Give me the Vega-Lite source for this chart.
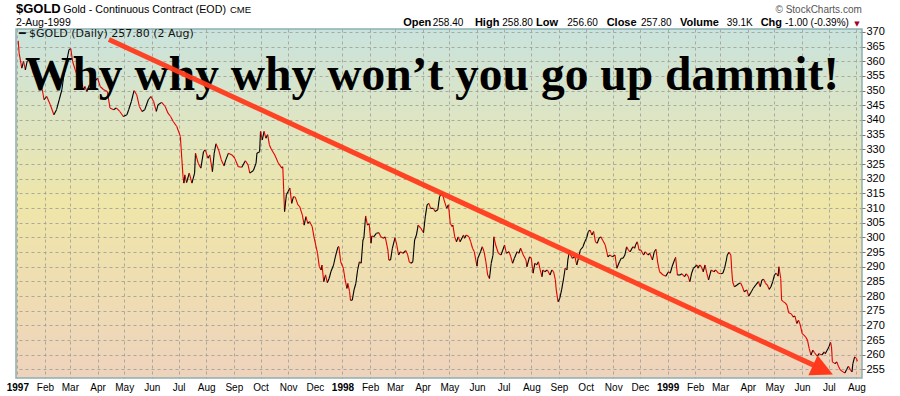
{
  "$schema": "https://vega.github.io/schema/vega-lite/v6.json",
  "width": 846,
  "height": 349,
  "autosize": {"type": "none"},
  "padding": {"left": 16, "top": 29, "right": 38, "bottom": 18},
  "background": "white",
  "config": {
    "view": {"fill": {"gradient": "linear", "x1": 0, "y1": 0, "x2": 0, "y2": 1, "stops": [{"offset": 0, "color": "#c9e3dd"}, {"offset": 0.25, "color": "#dde5c4"}, {"offset": 0.5, "color": "#efe6a9"}, {"offset": 0.75, "color": "#efddb2"}, {"offset": 1, "color": "#eed3bd"}]}, "stroke": "#8cb0b3", "strokeWidth": 1.5},
    "font": "Liberation Sans"
  },
  "layer": [
    {
      "data": {"format": {"parse": {"date": "date"}}, "values": [
        {"date":"1997-01-02","price":367},{"date":"1997-01-03","price":362.8},{"date":"1997-01-05","price":359.4},{"date":"1997-01-06","price":357.7},{"date":"1997-01-08","price":360},{"date":"1997-01-10","price":357.1},{"date":"1997-01-12","price":360},{"date":"1997-01-15","price":360.5},{"date":"1997-01-19","price":356},{"date":"1997-01-23","price":353.7},{"date":"1997-01-26","price":356},{"date":"1997-01-29","price":350.3},{"date":"1997-01-31","price":346.9},
        {"date":"1997-02-03","price":348},{"date":"1997-02-07","price":345.2},{"date":"1997-02-11","price":341.8},{"date":"1997-02-14","price":343.5},{"date":"1997-02-17","price":346.9},{"date":"1997-02-20","price":350.3},{"date":"1997-02-22","price":354.8},{"date":"1997-02-25","price":359.4},{"date":"1997-02-28","price":364},
        {"date":"1997-03-02","price":364.3},{"date":"1997-03-04","price":360},{"date":"1997-03-07","price":357.1},{"date":"1997-03-10","price":354.3},{"date":"1997-03-12","price":352.6},{"date":"1997-03-14","price":353.7},{"date":"1997-03-16","price":350.3},{"date":"1997-03-18","price":351.4},{"date":"1997-03-20","price":349.7},{"date":"1997-03-23","price":352},{"date":"1997-03-26","price":351.4},{"date":"1997-03-29","price":353.1},
        {"date":"1997-04-01","price":354.3},{"date":"1997-04-04","price":351.4},{"date":"1997-04-08","price":350.3},{"date":"1997-04-12","price":349.7},{"date":"1997-04-15","price":344.1},{"date":"1997-04-19","price":343.5},{"date":"1997-04-22","price":344.1},{"date":"1997-04-26","price":342.9},{"date":"1997-04-30","price":341.2},
        {"date":"1997-05-04","price":341.8},{"date":"1997-05-06","price":343.5},{"date":"1997-05-09","price":346.3},{"date":"1997-05-12","price":350},{"date":"1997-05-15","price":348.6},{"date":"1997-05-18","price":344.6},{"date":"1997-05-21","price":342.9},{"date":"1997-05-24","price":343.5},{"date":"1997-05-28","price":346.9},{"date":"1997-05-31","price":348},
        {"date":"1997-06-03","price":346.3},{"date":"1997-06-06","price":342.9},{"date":"1997-06-08","price":345.2},{"date":"1997-06-12","price":346},{"date":"1997-06-16","price":344.6},{"date":"1997-06-19","price":342.4},{"date":"1997-06-22","price":341.2},{"date":"1997-06-25","price":339.5},{"date":"1997-06-29","price":337.8},
        {"date":"1997-07-03","price":334.4},{"date":"1997-07-04","price":329.8},{"date":"1997-07-05","price":325.3},{"date":"1997-07-06","price":320.7},{"date":"1997-07-07","price":318.5},{"date":"1997-07-08","price":321.3},{"date":"1997-07-10","price":318.7},{"date":"1997-07-13","price":321.9},{"date":"1997-07-16","price":318.5},{"date":"1997-07-19","price":321.9},{"date":"1997-07-20","price":328.7},{"date":"1997-07-23","price":325.3},{"date":"1997-07-26","price":323.6},{"date":"1997-07-29","price":329.2},{"date":"1997-07-31","price":329.8},
        {"date":"1997-08-03","price":327},{"date":"1997-08-05","price":328.1},{"date":"1997-08-08","price":322.4},{"date":"1997-08-10","price":328.7},{"date":"1997-08-12","price":331.9},{"date":"1997-08-15","price":329.8},{"date":"1997-08-18","price":326.4},{"date":"1997-08-21","price":324.4},{"date":"1997-08-23","price":326.4},{"date":"1997-08-26","price":328.7},{"date":"1997-08-30","price":328.1},
        {"date":"1997-09-02","price":327},{"date":"1997-09-06","price":324.1},{"date":"1997-09-10","price":323.9},{"date":"1997-09-14","price":326.1},{"date":"1997-09-17","price":324.7},{"date":"1997-09-19","price":321.9},{"date":"1997-09-23","price":322.8},{"date":"1997-09-26","price":325.3},{"date":"1997-09-27","price":328.7},{"date":"1997-09-30","price":329.2},
        {"date":"1997-10-01","price":336.1},{"date":"1997-10-03","price":333.2},{"date":"1997-10-05","price":336.1},{"date":"1997-10-07","price":333.8},{"date":"1997-10-09","price":335},{"date":"1997-10-11","price":331.5},{"date":"1997-10-13","price":330.1},{"date":"1997-10-17","price":328.1},{"date":"1997-10-21","price":325.3},{"date":"1997-10-25","price":323.6},{"date":"1997-10-26","price":324.1},{"date":"1997-10-27","price":316.2},{"date":"1997-10-28","price":308.8},{"date":"1997-10-30","price":314.5},
        {"date":"1997-11-01","price":315.6},{"date":"1997-11-03","price":316.8},{"date":"1997-11-05","price":311.6},{"date":"1997-11-07","price":313.9},{"date":"1997-11-09","price":313.7},{"date":"1997-11-12","price":311.1},{"date":"1997-11-14","price":310.5},{"date":"1997-11-17","price":307.6},{"date":"1997-11-19","price":304.2},{"date":"1997-11-21","price":307.1},{"date":"1997-11-23","price":304.8},{"date":"1997-11-25","price":305.4},{"date":"1997-11-28","price":303.7},{"date":"1997-11-30","price":300.2},
        {"date":"1997-12-02","price":297.4},{"date":"1997-12-04","price":294.6},{"date":"1997-12-06","price":290},{"date":"1997-12-08","price":288.9},{"date":"1997-12-09","price":290.6},{"date":"1997-12-11","price":284.9},{"date":"1997-12-13","price":287.2},{"date":"1997-12-15","price":284.6},{"date":"1997-12-17","price":286},{"date":"1997-12-19","price":288.3},{"date":"1997-12-22","price":290.6},{"date":"1997-12-24","price":293.4},{"date":"1997-12-27","price":296.8},{"date":"1997-12-28","price":296.8},{"date":"1997-12-30","price":291.7},
        {"date":"1998-01-02","price":289.5},{"date":"1998-01-04","price":285.5},{"date":"1998-01-06","price":282.6},{"date":"1998-01-07","price":284.3},{"date":"1998-01-09","price":281.5},{"date":"1998-01-10","price":278.6},{"date":"1998-01-12","price":278.6},{"date":"1998-01-14","price":282.1},{"date":"1998-01-16","price":284.3},{"date":"1998-01-18","price":288.9},{"date":"1998-01-20","price":291.7},{"date":"1998-01-22","price":291.2},{"date":"1998-01-24","price":299.1},{"date":"1998-01-25","price":299.7},{"date":"1998-01-27","price":307.3},{"date":"1998-01-29","price":304.2},{"date":"1998-01-31","price":304.6},
        {"date":"1998-02-02","price":298},{"date":"1998-02-03","price":300.5},{"date":"1998-02-05","price":300.2},{"date":"1998-02-08","price":301.4},{"date":"1998-02-11","price":301.6},{"date":"1998-02-13","price":300.2},{"date":"1998-02-16","price":299.7},{"date":"1998-02-18","price":300.2},{"date":"1998-02-21","price":295.7},{"date":"1998-02-22","price":292.3},{"date":"1998-02-24","price":292.3},{"date":"1998-02-26","price":296.3},
        {"date":"1998-03-01","price":299.9},{"date":"1998-03-03","price":297.4},{"date":"1998-03-05","price":294},{"date":"1998-03-07","price":295.1},{"date":"1998-03-10","price":294.6},{"date":"1998-03-13","price":295.5},{"date":"1998-03-15","price":294.3},{"date":"1998-03-17","price":291.7},{"date":"1998-03-19","price":291.2},{"date":"1998-03-21","price":291.7},{"date":"1998-03-23","price":299.1},{"date":"1998-03-25","price":300.8},{"date":"1998-03-27","price":304.2},{"date":"1998-03-30","price":303.1},
        {"date":"1998-04-02","price":301.6},{"date":"1998-04-04","price":307.1},{"date":"1998-04-06","price":311.1},{"date":"1998-04-08","price":311.6},{"date":"1998-04-10","price":309.9},{"date":"1998-04-13","price":309.9},{"date":"1998-04-15","price":308.8},{"date":"1998-04-18","price":309.4},{"date":"1998-04-20","price":313.9},{"date":"1998-04-23","price":315.3},{"date":"1998-04-25","price":312.8},{"date":"1998-04-28","price":309.9},{"date":"1998-04-30","price":311.1},
        {"date":"1998-05-02","price":304.8},{"date":"1998-05-04","price":303.7},{"date":"1998-05-05","price":304.2},{"date":"1998-05-07","price":300.2},{"date":"1998-05-09","price":298.5},{"date":"1998-05-11","price":300.2},{"date":"1998-05-13","price":298.5},{"date":"1998-05-17","price":300.8},{"date":"1998-05-18","price":299.7},{"date":"1998-05-20","price":300.8},{"date":"1998-05-23","price":300.2},{"date":"1998-05-25","price":298.5},{"date":"1998-05-27","price":296.3},{"date":"1998-05-29","price":295.1},
        {"date":"1998-06-01","price":290.2},{"date":"1998-06-02","price":292.9},{"date":"1998-06-05","price":295.1},{"date":"1998-06-07","price":296.8},{"date":"1998-06-09","price":295.1},{"date":"1998-06-11","price":291.7},{"date":"1998-06-13","price":287.2},{"date":"1998-06-15","price":286},{"date":"1998-06-17","price":291.2},{"date":"1998-06-19","price":294},{"date":"1998-06-20","price":300.2},{"date":"1998-06-22","price":297.4},{"date":"1998-06-25","price":294.6},{"date":"1998-06-28","price":294},{"date":"1998-06-30","price":295.7},
        {"date":"1998-07-02","price":297.4},{"date":"1998-07-04","price":294.6},{"date":"1998-07-07","price":295.1},{"date":"1998-07-09","price":293.4},{"date":"1998-07-11","price":291.2},{"date":"1998-07-13","price":292.9},{"date":"1998-07-16","price":295.1},{"date":"1998-07-18","price":294.6},{"date":"1998-07-20","price":296.3},{"date":"1998-07-23","price":294},{"date":"1998-07-26","price":292.3},{"date":"1998-07-27","price":290},{"date":"1998-07-30","price":293.4},
        {"date":"1998-08-01","price":292.9},{"date":"1998-08-03","price":287.8},{"date":"1998-08-05","price":291.2},{"date":"1998-08-07","price":290.6},{"date":"1998-08-09","price":291.7},{"date":"1998-08-11","price":288.9},{"date":"1998-08-13","price":286.6},{"date":"1998-08-14","price":288.9},{"date":"1998-08-16","price":288.3},{"date":"1998-08-19","price":288.9},{"date":"1998-08-22","price":287.2},{"date":"1998-08-24","price":288.9},{"date":"1998-08-26","price":288.3},{"date":"1998-08-28","price":285.5},{"date":"1998-08-29","price":282.1},{"date":"1998-08-31","price":278.1},
        {"date":"1998-09-02","price":279.3},{"date":"1998-09-04","price":282.1},{"date":"1998-09-06","price":285.5},{"date":"1998-09-08","price":289.5},{"date":"1998-09-10","price":288.9},{"date":"1998-09-11","price":292.3},{"date":"1998-09-13","price":295.7},{"date":"1998-09-14","price":294},{"date":"1998-09-16","price":292.9},{"date":"1998-09-19","price":293.4},{"date":"1998-09-21","price":290.6},{"date":"1998-09-23","price":292.9},{"date":"1998-09-25","price":295.7},{"date":"1998-09-28","price":296.8},{"date":"1998-09-30","price":298.5},
        {"date":"1998-10-02","price":299.7},{"date":"1998-10-04","price":302},{"date":"1998-10-06","price":302.5},{"date":"1998-10-08","price":300.8},{"date":"1998-10-10","price":302},{"date":"1998-10-12","price":298.5},{"date":"1998-10-14","price":298},{"date":"1998-10-16","price":299.7},{"date":"1998-10-18","price":300.2},{"date":"1998-10-20","price":299.1},{"date":"1998-10-23","price":297.4},{"date":"1998-10-26","price":293.4},{"date":"1998-10-28","price":294},{"date":"1998-10-31","price":293.4},
        {"date":"1998-11-03","price":294},{"date":"1998-11-05","price":289.5},{"date":"1998-11-08","price":291.7},{"date":"1998-11-10","price":292.9},{"date":"1998-11-12","price":292.9},{"date":"1998-11-14","price":294},{"date":"1998-11-16","price":296.8},{"date":"1998-11-18","price":295.7},{"date":"1998-11-20","price":295.1},{"date":"1998-11-23","price":296.8},{"date":"1998-11-25","price":296.3},{"date":"1998-11-26","price":297.4},{"date":"1998-11-28","price":298.5},{"date":"1998-11-30","price":295.7},
        {"date":"1998-12-02","price":295.7},{"date":"1998-12-05","price":294},{"date":"1998-12-07","price":295.1},{"date":"1998-12-10","price":294},{"date":"1998-12-12","price":294.6},{"date":"1998-12-15","price":292.3},{"date":"1998-12-17","price":295.1},{"date":"1998-12-19","price":295.9},{"date":"1998-12-21","price":291.2},{"date":"1998-12-23","price":288.3},{"date":"1998-12-27","price":287.2},{"date":"1998-12-30","price":286.8},
        {"date":"1999-01-02","price":288.3},{"date":"1999-01-04","price":287.8},{"date":"1999-01-06","price":290},{"date":"1999-01-08","price":291.7},{"date":"1999-01-10","price":293.2},{"date":"1999-01-12","price":287.2},{"date":"1999-01-15","price":287.2},{"date":"1999-01-17","price":287.6},{"date":"1999-01-20","price":286.6},{"date":"1999-01-22","price":287.6},{"date":"1999-01-24","price":286.8},{"date":"1999-01-26","price":284.9},{"date":"1999-01-28","price":287.8},{"date":"1999-01-30","price":289.5},
        {"date":"1999-02-01","price":290},{"date":"1999-02-03","price":290.6},{"date":"1999-02-04","price":289.5},{"date":"1999-02-06","price":290.6},{"date":"1999-02-08","price":290},{"date":"1999-02-10","price":288.3},{"date":"1999-02-12","price":290.6},{"date":"1999-02-14","price":287.8},{"date":"1999-02-16","price":285.5},{"date":"1999-02-18","price":287.8},{"date":"1999-02-19","price":288.9},{"date":"1999-02-22","price":288.3},{"date":"1999-02-24","price":288.9},{"date":"1999-02-27","price":287.8},
        {"date":"1999-03-02","price":287.6},{"date":"1999-03-04","price":287.8},{"date":"1999-03-06","price":289.5},{"date":"1999-03-08","price":292.3},{"date":"1999-03-09","price":294},{"date":"1999-03-11","price":294.9},{"date":"1999-03-13","price":294},{"date":"1999-03-14","price":288.9},{"date":"1999-03-15","price":284.9},{"date":"1999-03-17","price":283.2},{"date":"1999-03-20","price":283.8},{"date":"1999-03-22","price":284.3},{"date":"1999-03-24","price":284.5},{"date":"1999-03-26","price":283.2},{"date":"1999-03-28","price":281.5},{"date":"1999-03-31","price":282.1},
        {"date":"1999-04-02","price":280},{"date":"1999-04-05","price":281.5},{"date":"1999-04-07","price":282.6},{"date":"1999-04-10","price":283.8},{"date":"1999-04-13","price":284.9},{"date":"1999-04-15","price":283.2},{"date":"1999-04-17","price":285.5},{"date":"1999-04-19","price":285.7},{"date":"1999-04-21","price":284.3},{"date":"1999-04-23","price":283.8},{"date":"1999-04-25","price":282.3},{"date":"1999-04-27","price":283.2},{"date":"1999-04-29","price":284.9},
        {"date":"1999-05-01","price":287.2},{"date":"1999-05-03","price":287.8},{"date":"1999-05-05","price":286.8},{"date":"1999-05-06","price":290},{"date":"1999-05-08","price":286},{"date":"1999-05-09","price":278.6},{"date":"1999-05-11","price":278.1},{"date":"1999-05-13","price":277.7},{"date":"1999-05-15","price":276.9},{"date":"1999-05-17","price":274.3},{"date":"1999-05-20","price":273.9},{"date":"1999-05-22","price":272.9},{"date":"1999-05-24","price":273.2},{"date":"1999-05-26","price":270.7},{"date":"1999-05-28","price":271.8},{"date":"1999-05-30","price":270.1},
        {"date":"1999-06-01","price":267.3},{"date":"1999-06-03","price":266.7},{"date":"1999-06-05","price":266.1},{"date":"1999-06-07","price":265},{"date":"1999-06-09","price":262.1},{"date":"1999-06-11","price":259.9},{"date":"1999-06-13","price":261.6},{"date":"1999-06-15","price":260.7},{"date":"1999-06-18","price":259.5},{"date":"1999-06-20","price":260.4},{"date":"1999-06-23","price":259.9},{"date":"1999-06-26","price":261},{"date":"1999-06-27","price":260.4},{"date":"1999-06-30","price":262.1},
        {"date":"1999-07-01","price":262.7},{"date":"1999-07-03","price":264.2},{"date":"1999-07-04","price":262.7},{"date":"1999-07-05","price":257.6},{"date":"1999-07-08","price":257},{"date":"1999-07-10","price":257.6},{"date":"1999-07-12","price":255.9},{"date":"1999-07-14","price":254.8},{"date":"1999-07-17","price":254.2},{"date":"1999-07-19","price":253.8},{"date":"1999-07-21","price":255},{"date":"1999-07-23","price":256.1},{"date":"1999-07-25","price":255},{"date":"1999-07-27","price":254.2},{"date":"1999-07-28","price":257},{"date":"1999-07-30","price":259.3},
        {"date":"1999-08-01","price":258.8},{"date":"1999-08-02","price":257.8}
      ]},
      "transform": [
        {"window": [{"op": "lag", "field": "date", "as": "pdate"}, {"op": "lag", "field": "price", "as": "pprice"}], "sort": [{"field": "date"}]},
        {"filter": "datum.pdate != null"}
      ],
      "mark": {"type": "rule", "strokeWidth": 1.1},
      "encoding": {
        "x": {"field": "pdate", "type": "temporal",
          "scale": {"type": "utc", "domain": [{"year": 1996, "month": 12, "date": 30, "hours": 12, "utc": true}, {"year": 1999, "month": 8, "date": 7, "hours": 6, "utc": true}]},
          "axis": {"orient": "bottom", "title": null, "grid": true, "gridColor": "#a3a397", "gridOpacity": 0.9, "gridDash": [3, 3], "gridWidth": 1, "ticks": false, "domain": false, "labelPadding": 4, "labelFont": "Liberation Sans", "labelFontSize": 10, "labelColor": "#000", "labelOverlap": false, "labelFlush": false, "labelBound": false, "tickCount": {"interval": "month", "step": 1}, "labelExpr": "utcmonth(datum.value) == 0 ? utcFormat(datum.value, '%Y') : utcFormat(datum.value, '%b')", "labelFontWeight": {"condition": {"test": "utcmonth(datum.value) == 0", "value": "bold"}, "value": "normal"}}},
        "x2": {"field": "date"},
        "y": {"field": "pprice", "type": "quantitative",
          "scale": {"domain": [252.1, 371], "nice": false, "zero": false},
          "axis": {"orient": "right", "title": null, "values": [255, 260, 265, 270, 275, 280, 285, 290, 295, 300, 305, 310, 315, 320, 325, 330, 335, 340, 345, 350, 355, 360, 365, 370], "tickCount": 40, "grid": true, "gridColor": "#a3a397", "gridOpacity": 0.9, "gridDash": [3, 3], "gridWidth": 1, "ticks": true, "tickSize": 3, "tickColor": "#777", "domain": false, "labelPadding": 1, "labelFont": "Liberation Sans", "labelFontSize": 11, "labelColor": "#000", "labelOverlap": false, "labelBound": false, "labelFlush": false}},
        "y2": {"field": "price"},
        "color": {"condition": {"test": "datum.price >= datum.pprice", "value": "#000000"}, "value": "#e60000"}
      }
    },
    {
      "data": {"values": [{}]},
      "mark": {"type": "text", "text": "Why why why won’t you go up dammit!", "font": "Liberation Serif", "fontSize": 47.5, "fontWeight": "bold", "align": "left", "baseline": "alphabetic", "color": "#000"},
      "encoding": {"x": {"datum": {"year": 1997, "month": 1, "date": 9, "hours": 12, "utc": true}, "type": "temporal"}, "y": {"datum": 350.3, "type": "quantitative"}}
    },
    {
      "data": {"values": [{}]},
      "mark": {"type": "rule", "color": "#ff3a1c", "strokeWidth": 5, "opacity": 0.95, "strokeCap": "butt"},
      "encoding": {"x": {"datum": {"year": 1997, "month": 4, "date": 13, "hours": 19, "utc": true}, "type": "temporal"}, "y": {"datum": 367.4, "type": "quantitative"}, "x2": {"datum": {"year": 1999, "month": 6, "date": 18, "hours": 19, "utc": true}}, "y2": {"datum": 255.8}}
    },
    {
      "data": {"values": [{}]},
      "mark": {"type": "point", "shape": "M-1,-1L1,0L-1,1Z", "filled": true, "color": "#ff3a1c", "opacity": 1, "size": 480, "angle": 24.8, "strokeWidth": 0},
      "encoding": {"x": {"datum": {"year": 1999, "month": 6, "date": 24, "hours": 10, "utc": true}, "type": "temporal"}, "y": {"datum": 254.9, "type": "quantitative"}}
    },
    {
      "data": {"values": [{}]},
      "mark": {"type": "text", "text": "━ $GOLD (Daily) 257.80 (2 Aug)", "font": "DejaVu Sans", "fontSize": 11, "align": "left", "baseline": "middle", "color": "#111"},
      "encoding": {"x": {"datum": {"year": 1997, "month": 1, "date": 2, "hours": 19, "utc": true}, "type": "temporal"}, "y": {"datum": 369.3, "type": "quantitative"}}
    },
    {
      "data": {"values": [{}]},
      "mark": {"type": "text", "text": "$GOLD", "fontSize": 13, "fontWeight": "bold", "align": "left", "baseline": "alphabetic", "color": "#000"},
      "encoding": {"x": {"datum": {"year": 1996, "month": 12, "date": 30, "hours": 10, "utc": true}, "type": "temporal"}, "y": {"datum": 376.5, "type": "quantitative"}}
    },
    {
      "data": {"values": [{}]},
      "mark": {"type": "text", "text": "2-Aug-1999", "fontSize": 10.5, "align": "left", "baseline": "alphabetic", "color": "#000"},
      "encoding": {"x": {"datum": {"year": 1996, "month": 12, "date": 30, "hours": 10, "utc": true}, "type": "temporal"}, "y": {"datum": 371.9, "type": "quantitative"}}
    },
    {
      "data": {"values": [{}]},
      "mark": {"type": "text", "text": "Gold - Continuous Contract (EOD)", "fontSize": 10.7, "align": "left", "baseline": "alphabetic", "color": "#000"},
      "encoding": {"x": {"datum": {"year": 1997, "month": 2, "date": 21, "hours": 12, "utc": true}, "type": "temporal"}, "y": {"datum": 376.5, "type": "quantitative"}}
    },
    {
      "data": {"values": [{}]},
      "mark": {"type": "text", "text": "CME", "fontSize": 9.5, "align": "left", "baseline": "alphabetic", "color": "#000"},
      "encoding": {"x": {"datum": {"year": 1997, "month": 8, "date": 27, "hours": 18, "utc": true}, "type": "temporal"}, "y": {"datum": 376.6, "type": "quantitative"}}
    },
    {
      "data": {"values": [{}]},
      "mark": {"type": "text", "text": "© StockCharts.com", "fontSize": 10, "align": "right", "baseline": "alphabetic", "color": "#555"},
      "encoding": {"x": {"datum": {"year": 1999, "month": 8, "date": 7, "hours": 0, "utc": true}, "type": "temporal"}, "y": {"datum": 376.6, "type": "quantitative"}}
    },
    {
      "data": {"values": [{}]},
      "mark": {"type": "text", "text": "Open", "fontSize": 11, "fontWeight": "bold", "align": "left", "baseline": "alphabetic", "color": "#000"},
      "encoding": {"x": {"datum": {"year": 1998, "month": 3, "date": 10, "hours": 5, "utc": true}, "type": "temporal"}, "y": {"datum": 371.9, "type": "quantitative"}}
    },
    {
      "data": {"values": [{}]},
      "mark": {"type": "text", "text": "258.40", "fontSize": 10, "align": "left", "baseline": "alphabetic", "color": "#000"},
      "encoding": {"x": {"datum": {"year": 1998, "month": 4, "date": 12, "hours": 7, "utc": true}, "type": "temporal"}, "y": {"datum": 371.9, "type": "quantitative"}}
    },
    {
      "data": {"values": [{}]},
      "mark": {"type": "text", "text": "High", "fontSize": 11, "fontWeight": "bold", "align": "left", "baseline": "alphabetic", "color": "#000"},
      "encoding": {"x": {"datum": {"year": 1998, "month": 5, "date": 29, "hours": 17, "utc": true}, "type": "temporal"}, "y": {"datum": 371.9, "type": "quantitative"}}
    },
    {
      "data": {"values": [{}]},
      "mark": {"type": "text", "text": "258.80", "fontSize": 10, "align": "left", "baseline": "alphabetic", "color": "#000"},
      "encoding": {"x": {"datum": {"year": 1998, "month": 6, "date": 29, "hours": 10, "utc": true}, "type": "temporal"}, "y": {"datum": 371.9, "type": "quantitative"}}
    },
    {
      "data": {"values": [{}]},
      "mark": {"type": "text", "text": "Low", "fontSize": 11, "fontWeight": "bold", "align": "left", "baseline": "alphabetic", "color": "#000"},
      "encoding": {"x": {"datum": {"year": 1998, "month": 8, "date": 6, "hours": 5, "utc": true}, "type": "temporal"}, "y": {"datum": 371.9, "type": "quantitative"}}
    },
    {
      "data": {"values": [{}]},
      "mark": {"type": "text", "text": "256.60", "fontSize": 10, "align": "left", "baseline": "alphabetic", "color": "#000"},
      "encoding": {"x": {"datum": {"year": 1998, "month": 9, "date": 10, "hours": 10, "utc": true}, "type": "temporal"}, "y": {"datum": 371.9, "type": "quantitative"}}
    },
    {
      "data": {"values": [{}]},
      "mark": {"type": "text", "text": "Close", "fontSize": 11, "fontWeight": "bold", "align": "left", "baseline": "alphabetic", "color": "#000"},
      "encoding": {"x": {"datum": {"year": 1998, "month": 10, "date": 24, "hours": 14, "utc": true}, "type": "temporal"}, "y": {"datum": 371.9, "type": "quantitative"}}
    },
    {
      "data": {"values": [{}]},
      "mark": {"type": "text", "text": "257.80", "fontSize": 10, "align": "left", "baseline": "alphabetic", "color": "#000"},
      "encoding": {"x": {"datum": {"year": 1998, "month": 12, "date": 2, "hours": 2, "utc": true}, "type": "temporal"}, "y": {"datum": 371.9, "type": "quantitative"}}
    },
    {
      "data": {"values": [{}]},
      "mark": {"type": "text", "text": "Volume", "fontSize": 11, "fontWeight": "bold", "align": "left", "baseline": "alphabetic", "color": "#000"},
      "encoding": {"x": {"datum": {"year": 1999, "month": 1, "date": 14, "hours": 22, "utc": true}, "type": "temporal"}, "y": {"datum": 371.9, "type": "quantitative"}}
    },
    {
      "data": {"values": [{}]},
      "mark": {"type": "text", "text": "39.1K", "fontSize": 10, "align": "left", "baseline": "alphabetic", "color": "#000"},
      "encoding": {"x": {"datum": {"year": 1999, "month": 3, "date": 8, "hours": 7, "utc": true}, "type": "temporal"}, "y": {"datum": 371.9, "type": "quantitative"}}
    },
    {
      "data": {"values": [{}]},
      "mark": {"type": "text", "text": "Chg", "fontSize": 11, "fontWeight": "bold", "align": "left", "baseline": "alphabetic", "color": "#000"},
      "encoding": {"x": {"datum": {"year": 1999, "month": 4, "date": 15, "hours": 12, "utc": true}, "type": "temporal"}, "y": {"datum": 371.9, "type": "quantitative"}}
    },
    {
      "data": {"values": [{}]},
      "mark": {"type": "text", "text": "-1.00 (-0.39%)", "fontSize": 10, "align": "left", "baseline": "alphabetic", "color": "#000"},
      "encoding": {"x": {"datum": {"year": 1999, "month": 5, "date": 12, "hours": 19, "utc": true}, "type": "temporal"}, "y": {"datum": 371.9, "type": "quantitative"}}
    },
    {
      "data": {"values": [{}]},
      "mark": {"type": "text", "text": "▼", "font": "DejaVu Sans", "fontSize": 7, "align": "left", "baseline": "alphabetic", "color": "#a3002b"},
      "encoding": {"x": {"datum": {"year": 1999, "month": 7, "date": 29, "hours": 14, "utc": true}, "type": "temporal"}, "y": {"datum": 372.1, "type": "quantitative"}}
    }
  ]
}
